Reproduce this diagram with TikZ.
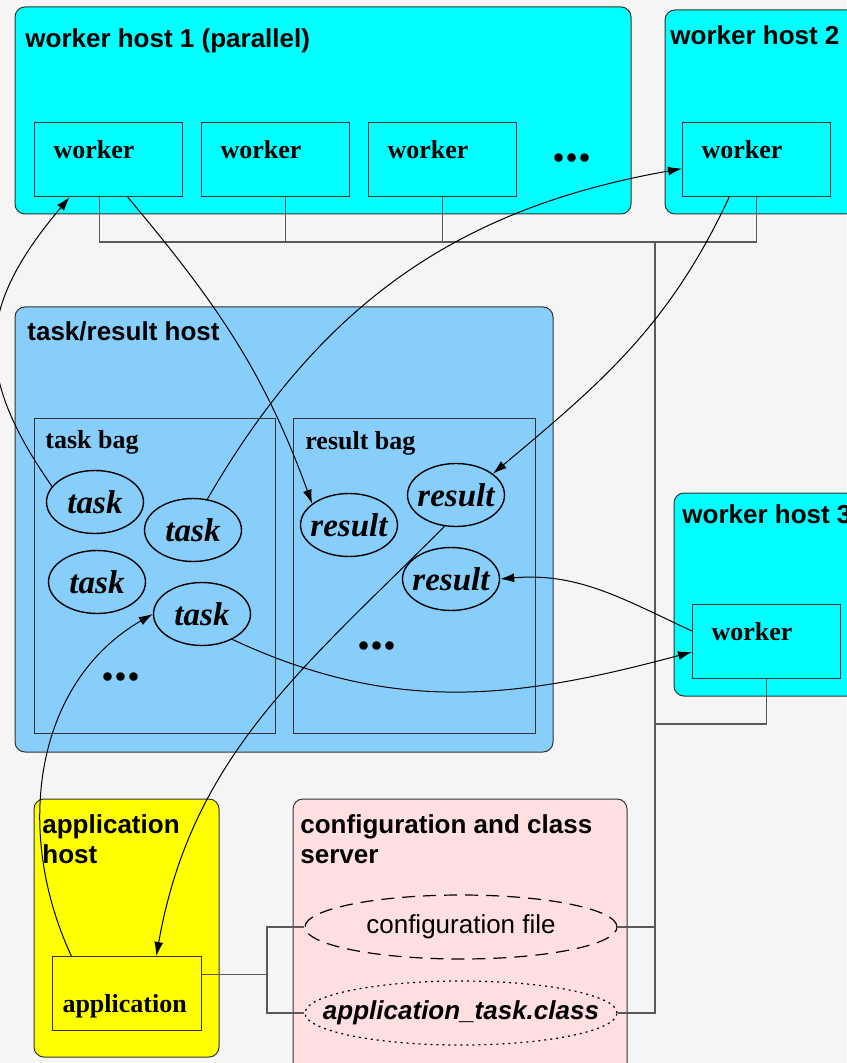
\documentclass[tikz,border=0pt]{standalone}
\usepackage{fontspec}
\newfontfamily\helv{Liberation Sans}
\newfontfamily\tms{Liberation Serif}
\usetikzlibrary{shapes.geometric,arrows.meta}
\definecolor{aqua}{RGB}{0,255,255}
\definecolor{lemon}{RGB}{255,255,0}
\definecolor{skyblue}{HTML}{87CEFA}
\definecolor{rosy}{HTML}{FFDFE0}
\definecolor{paper}{HTML}{F5F5F5}
\tikzset{
  host/.style={draw=black!80,rounded corners=5pt,line width=0.5pt},
  bag/.style={draw=black!80,line width=0.5pt},
  hosttitle/.style={anchor=base west,inner sep=0pt,align=left,
    font=\helv\bfseries\fontsize{13}{15}\selectfont},
  bagtitle/.style={anchor=base west,inner sep=0pt,
    font=\tms\bfseries\fontsize{13}{15}\selectfont},
  workerbox/.style={draw=black!80,fill=aqua,anchor=north west,line width=0.5pt,
    inner xsep=9.5pt,inner ysep=0pt,text width=55pt,text height=18pt,text depth=19pt,
    font=\tms\bfseries\fontsize{13}{15}\selectfont},
  item/.style={ellipse,draw,line width=0.7pt,minimum width=48.5pt,minimum height=31.5pt,
    inner sep=0pt,font=\tms\bfseries\itshape\fontsize{16.5}{18}\selectfont},
  file/.style={ellipse,draw,line width=0.6pt,minimum width=156pt,minimum height=32pt,inner sep=0pt},
  moredots/.style={inner sep=0pt,font=\tms\bfseries\fontsize{26}{26}\selectfont},
  bus/.style={draw=black!65,line width=0.6pt},
  flow/.style={-{Latex[length=7pt,width=4.5pt]},line width=0.5pt}
}
\begin{document}
\begin{tikzpicture}[x=0.5pt,y=-0.5pt]
  \useasboundingbox (0,0) rectangle (846,1063);
  \fill[paper] (0,0) rectangle (846,1063);

  % hosts
  \draw[host,fill=aqua] (15,7) rectangle (631,214);
  \draw[host,fill=aqua] (665,10) rectangle (880,214);
  \draw[host,fill=aqua] (674,493) rectangle (880,696);
  \draw[host,fill=skyblue] (15,307) rectangle (553,752);
  \draw[host,fill=lemon] (34,799) rectangle (219,1057);
  \draw[host,fill=rosy] (293,799) rectangle (627,1080);
  \node[hosttitle] (h1) at (25,48) {worker host 1 (parallel)};
  \node[hosttitle] (h2) at (670,45) {worker host 2};
  \node[hosttitle] (h3) at (682,523) {worker host 3};
  \node[hosttitle] (h4) at (27,341) {task/result host};
  \node[hosttitle] (h5) at (42,863) {application\\host};
  \node[hosttitle] (h6) at (300,863) {configuration and class\\server};

  % workers
  \node[workerbox] (w1) at (34,122) {worker};
  \node[workerbox] (w2) at (201,122) {worker};
  \node[workerbox] (w3) at (368,122) {worker};
  \node[moredots] (d1) at (572,158) {...};
  \node[workerbox] (w4) at (682,122) {worker};
  \node[workerbox] (w5) at (692,604) {worker};
  \node[workerbox,fill=lemon,inner xsep=5pt,text width=64.5pt,
    text height=28pt,text depth=9pt] (app) at (52,956) {application};

  % bags
  \draw[bag] (34,418) rectangle (275,733);
  \draw[bag] (293,418) rectangle (535,733);
  \node[bagtitle] (tb) at (45,448) {task bag};
  \node[bagtitle] (rb) at (305,449) {result bag};
  \node[item] (t1) at (95,502) {\makebox[0pt]{task}};
  \node[item] (t2) at (193,530) {\makebox[0pt]{task}};
  \node[item] (t3) at (97,582) {\makebox[0pt]{task}};
  \node[item] (t4) at (202,614) {\makebox[0pt]{task}};
  \node[moredots] (d2) at (121,677) {...};
  \node[item] (r1) at (349,525) {\makebox[0pt]{result}};
  \node[item] (r2) at (456,495) {\makebox[0pt]{result}};
  \node[item] (r3) at (451,579) {\makebox[0pt]{result}};
  \node[moredots] (d3) at (377,646) {...};

  % files
  \node[file,dash pattern=on 6.5pt off 4pt,font=\helv\fontsize{13}{15}\selectfont]
    (cfg) at (461,927) {\makebox[0pt]{configuration file}};
  \node[file,dash pattern=on 1pt off 2pt,font=\helv\bfseries\itshape\fontsize{13}{15}\selectfont]
    (cls) at (461,1013) {\makebox[0pt]{application\_task.class}};

  % network
  \coordinate (bustop) at (655,242);
  \coordinate (busjoin) at (655,724);
  \draw[bus] ([xshift=-4.5pt]w1.south) |- (w4.south |- bustop) -- (w4.south);
  \draw[bus] ([xshift=5pt]w2.south) -- ([xshift=5pt]w2.south |- bustop);
  \draw[bus] (w3.south) -- (w3.south |- bustop);
  \draw[bus] (bustop) |- (cls.east);
  \draw[bus] (cfg.east) -- (cfg.east -| bustop);
  \draw[bus] (w5.south) |- (busjoin);
  \draw[bus] ([yshift=9.5pt]app.east) -- ++(65,0) coordinate (appjoin);
  \draw[bus] (cfg.west) -| (appjoin);
  \draw[bus] (cls.west) -| (appjoin);

  % task flow
  \draw[flow] (t1.160) to[out=125,in=230,looseness=1.25] (w1.224);
  \draw[flow] (w1.-63) to[out=-50,in=110] (r1.150);
  \draw[flow] (t2.65) to[out=60,in=190] (w4.187);
  \draw[flow] (w4.234) to[out=-115,in=40] (r2.30);
  \draw[flow] (r2.250) to[out=-135,in=80] (app.52);
  \draw[flow] (app.146) to[out=115,in=210] (t4.180);
  \draw[flow] (t4.-40) to[out=-25,in=195] (w5.188);
  \draw[flow] (w5.172) to[out=155,in=5] (r3.0);
\end{tikzpicture}
\end{document}
